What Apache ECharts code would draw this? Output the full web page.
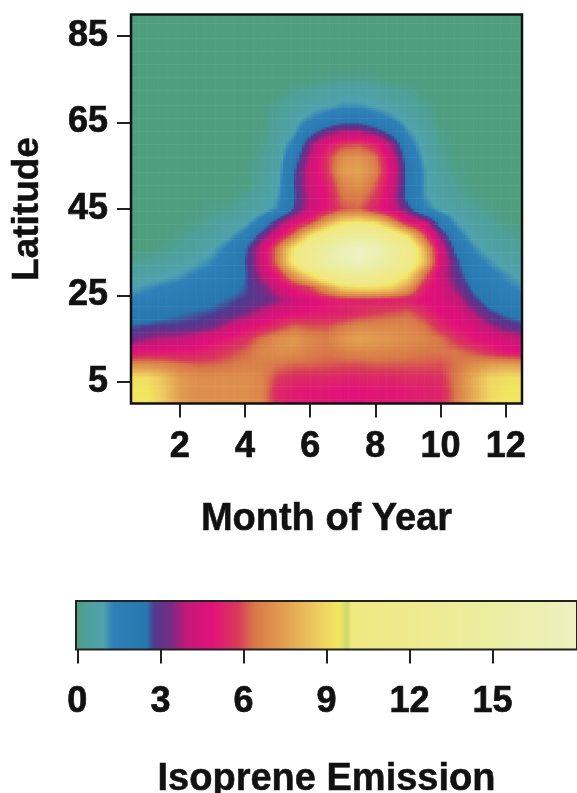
<!DOCTYPE html>
<html><head><meta charset="utf-8">
<style>html,body{margin:0;padding:0;background:#fff}#c{width:577px;height:793px}</style>
<script src="https://cdn.jsdelivr.net/npm/echarts@6/dist/echarts.min.js"></script>
</head><body><div id="c"></div>
<script>
const months=[0.5,1,1.5,2,2.5,3,3.5,4,4.5,5,5.5,6,6.5,7,7.5,8,8.5,9,9.5,10,10.5,11,11.5,12,12.5];
const latitudes=[90,87,84,81,78,75,72,69,66,63,60,57,54,51,48,45,42,39,36,33,30,27,24,21,18,15,12,9,6,3,0];
const lat90=[0,0,0,0,0,0,0,0,0,0,0,0,0,0,0,0,0,0,0,0,0,0,0,0,0];
const lat87=lat90,lat84=lat90,lat81=lat90,lat78=lat90;
const lat75=[0,0,0,0,0,0,0,0,0,0,0,0,.1,.15,.15,.1,0,0,0,0,0,0,0,0,0];
const lat72=[0,0,0,0,0,0,0,0,0,0,.2,.4,.5,.7,.7,.5,.4,.2,0,0,0,0,0,0,0];
const lat69=[0,0,0,0,0,0,0,0,0,.2,.5,.7,.9,1.1,1.1,.9,.7,.5,.2,0,0,0,0,0,0];
const lat66=[0,0,0,0,0,0,0,0,0,.3,.7,1.2,1.6,2,2,1.6,1.2,.7,.3,0,0,0,0,0,0];
const lat63=[0,0,0,0,0,0,0,0,0,.4,.9,2.2,3.1,3.7,3.7,3.1,2.2,1.1,.6,.1,0,0,0,0,0];
const lat60=[0,0,0,0,0,0,0,0,.1,.5,1.5,3.4,5,5.8,6,5.4,3.6,1.6,.7,.2,0,0,0,0,0];
const lat57=[0,0,0,0,0,0,0,0,.2,.6,2,4,5.6,7,7.2,6.4,4.4,2,.9,.3,0,0,0,0,0];
const lat54=[0,0,0,0,0,0,0,0,.3,.7,2.5,4.3,5.6,7.4,7.6,6.8,4.6,2.3,1.1,.4,.1,0,0,0,0];
const lat51=[0,0,0,0,0,0,0,0,.3,.8,2.6,4.3,5.2,6.8,7.2,6.2,4.4,2.3,1.1,.5,.2,0,0,0,0];
const lat48=[0,0,0,0,0,0,0,.2,.5,1,2.5,4.1,4.9,6.4,6.6,5.8,4.2,2.2,1.1,.6,.3,.1,0,0,0];
const lat45=[0,0,0,0,0,.1,.2,.4,.7,1.2,2.7,4.2,5,6,6.2,5.2,4.3,3,1.4,.9,.6,.3,.1,0,0];
const lat42=[0,0,0,0,.1,.3,.5,.8,1.6,3.2,4.6,5.6,7.6,9.2,9.6,9,7.2,5,4.2,2,1,.6,.3,.1,0];
const lat39=[0,0,0,.1,.3,.5,.9,1.5,3,4.6,6.4,9.2,11,13,14,13,11,9,6,3.4,1.5,.8,.5,.3,.1];
const lat36=[0,0,.1,.3,.5,.9,1.4,2.4,4.2,6.5,9.5,12,14.5,17,18,17,14.5,11.5,8,4.4,2.2,1.2,.7,.5,.3];
const lat33=[.2,.3,.4,.6,.9,1.2,1.7,2.6,4.2,6.6,10,12.5,15,17,18,16.5,14,11.5,8.5,4.6,2.8,1.6,1.1,.7,.5];
const lat30=[.5,.6,.8,1,1.3,1.6,2,2.5,3.9,5.2,7.5,9.5,11.5,13,14,13,11,9.5,6.5,4.3,3,2,1.5,1.1,.8];
const lat27=[.9,1.1,1.3,1.5,1.8,2,2.3,2.6,3.2,4.2,5.2,6,7.5,9,9.5,9.5,9,7.5,5.2,4.5,3.4,2.4,1.8,1.4,1.1];
const lat24=[1.4,1.6,1.8,2,2.2,2.4,2.6,2.8,3,3.5,4.2,4.6,5,5.3,5.3,5.3,5.2,5.2,4.8,4.6,4.2,2.9,2.2,1.8,1.5];
const lat21=[2,2.2,2.3,2.5,2.6,2.7,2.9,3.3,4,4.6,4.8,5,5.1,5.2,5.5,5.8,6,6.2,5.6,4.8,4.6,3.8,2.8,2.4,2.2];
const lat18=[2.6,2.7,2.8,2.8,2.9,3.2,4,4.6,5,5.6,6.2,6,6,6.4,6.8,6.8,6.8,6.8,6.4,5.4,4.9,4.6,3.8,3.1,2.8];
const lat15=[3.2,3.6,3.9,4,4.4,4.8,5.1,5.6,6.4,7,7.3,6.8,6.6,7.2,7.6,7.4,7.2,7,6.8,6.4,5.6,5,4.7,4.4,4];
const lat12=[4.8,5,5,5,5.1,5.4,5.8,6.2,6.8,7,7,6.6,6.4,6.6,6.8,6.8,6.7,6.6,6.4,6.4,6.4,6,5.5,5,4.8];
const lat9=[7,7,6.8,6.4,6.2,6.2,6.4,6.6,6.6,6.4,6.2,6.2,6.1,6,6,6.1,6.1,6.1,6.1,6,6.4,7,7.4,7.6,7.4];
const lat6=[9.2,9.2,8.4,7.4,7,7,7,7,6.8,5.8,5.5,5.4,5.4,5.3,5.3,5.4,5.4,5.5,5.5,5.6,6.6,7.8,8.9,9.2,9.2];
const lat3=[9.4,9.4,8.6,7.4,7,7,7,7,6.8,5.4,5.1,5,5,4.9,4.9,5,5,5.1,5.2,5.3,6.5,7.8,9,9.4,9.4];
const lat0=[9.4,9.4,8.6,7.4,7,7,7,7,6.8,5.4,5.1,5,5,4.9,4.9,5,5,5.1,5.2,5.3,6.5,7.8,9,9.4,9.4];
const emission=[lat90,lat87,lat84,lat81,lat78,lat75,lat72,lat69,lat66,lat63,lat60,lat57,lat54,lat51,lat48,lat45,lat42,lat39,lat36,lat33,lat30,lat27,lat24,lat21,lat18,lat15,lat12,lat9,lat6,lat3,lat0];
const monthTicks=[2,4,6,8,10,12];
const latitudeTicks=[5,25,45,65,85];
const scaleTicks=[0,3,6,9,12,15];
const scaleValues=[0,.3,.95,1.3,2.5,2.77,3.4,3.9,4.85,5.8,6.4,7.5,8.7,9.45,9.75,9.9,12.4,14.8,18];
const scaleColors=['#4f9e80','#4fa09a','#4fa2ae','#2f80b8','#2878b0','#503a90','#7a2a85','#c01a78','#e2107a','#d83a5a','#d87848','#e2a050','#eecc60','#f2e860','#c8d870','#f0e880','#f0ea90','#eaeea0','#eef0c0'];
const barOnlyStop=14; // the thin greenish notch shows on the colour bar only

const mapValues=scaleValues.filter((v,i)=>i!==barOnlyStop);
const rgb=scaleColors.filter((v,i)=>i!==barOnlyStop).map(c=>[1,3,5].map(i=>parseInt(c.substr(i,2),16)));
function colorOf(v){
  let i=0;
  while(i<mapValues.length-2&&v>mapValues[i+1])i++;
  const t=Math.max(0,Math.min(1,(v-mapValues[i])/(mapValues[i+1]-mapValues[i])));
  const a=rgb[i],b=rgb[i+1];
  return 'rgb('+a.map((x,k)=>Math.round(x+(b[k]-x)*t)).join(',')+')';
}
const cells=[];
latitudes.forEach((la,r)=>months.forEach((m,c)=>cells.push([m,la,emission[r][c],r,c])));
const SUB=6;
function renderCell(params,api){
  const r=api.value(3),c=api.value(4);
  if(r===0||c===months.length-1)return null;
  const v00=emission[r][c],v10=emission[r][c+1],v01=emission[r-1][c],v11=emission[r-1][c+1];
  const p0=api.coord([months[c],latitudes[r]]),p1=api.coord([months[c+1],latitudes[r-1]]);
  const w=(p1[0]-p0[0])/SUB,h=(p1[1]-p0[1])/SUB;
  const children=[];
  for(let i=0;i<SUB;i++)for(let j=0;j<SUB;j++){
    const u=(i+.5)/SUB,t=(j+.5)/SUB;
    const v=v00*(1-u)*(1-t)+v10*u*(1-t)+v01*(1-u)*t+v11*u*t;
    const x=p0[0]+i*w,y=p0[1]+(j+1)*h;
    children.push({type:'rect',shape:{x:x,y:y,width:w+.6,height:-h+.6},style:{fill:colorOf(v)},silent:true});
  }
  return {type:'group',children:children};
}
function renderBar(params,api){
  const a=api.coord([0,0]),b=api.coord([0,1]);
  const lo=api.coord([-0.05,0])[0],hi=api.coord([18.05,0])[0];
  return {type:'rect',shape:{x:lo,y:b[1],width:hi-lo,height:a[1]-b[1]},
    style:{fill:new echarts.graphic.LinearGradient(0,0,1,0,scaleValues.map((v,i)=>({offset:(v+.05)/18.1,color:scaleColors[i]})))}};
}
const font='"Liberation Sans",Arial,sans-serif';
const lab={fontFamily:font,fontWeight:'bold',fontSize:36,color:'#111',textBorderColor:'#111',textBorderWidth:0.7};
const nameLab={fontFamily:font,fontWeight:'bold',fontSize:38,color:'#111',textBorderColor:'#111',textBorderWidth:0.5};
const axisLine={show:false};
const tick={show:true,length:14,lineStyle:{color:'#222',width:2}};
const chart=echarts.init(document.getElementById('c'),null,{renderer:'canvas'});
chart.setOption({
  animation:false,backgroundColor:'#fff',
  grid:[
    {left:131,top:14.5,width:391,height:389,outerBoundsMode:'none',show:true,backgroundColor:'transparent',borderColor:'#111',borderWidth:2.5,z:5},
    {left:76,top:601,width:501,height:48.5,outerBoundsMode:'none',show:true,backgroundColor:'transparent',borderColor:'#222',borderWidth:2,z:5}
  ],
  xAxis:[
    {type:'value',gridIndex:0,min:0.5,max:12.5,splitLine:{show:false},axisLine,
     axisTick:{...tick,customValues:monthTicks},
     axisLabel:{...lab,customValues:monthTicks,margin:26},
     name:'Month of Year',nameLocation:'middle',nameGap:97,nameTextStyle:nameLab},
    {type:'value',gridIndex:1,min:-0.05,max:18.05,splitLine:{show:false},axisLine,
     axisTick:{...tick,customValues:scaleTicks},
     axisLabel:{...lab,customValues:scaleTicks,margin:35},
     name:'Isoprene Emission',nameLocation:'middle',nameGap:111,nameTextStyle:nameLab},
  ],
  yAxis:[
    {type:'value',gridIndex:0,min:0,max:90,splitLine:{show:false},axisLine,
     axisTick:{...tick,customValues:latitudeTicks},
     axisLabel:{...lab,customValues:latitudeTicks,margin:23},
     name:'Latitude',nameLocation:'middle',nameGap:85,nameTextStyle:{...nameLab,fontSize:37}},
    {type:'value',gridIndex:1,min:0,max:1,show:false}
  ],
  series:[
    {type:'custom',name:'Isoprene Emission',xAxisIndex:0,yAxisIndex:0,clip:true,silent:true,z:1,
     encode:{x:0,y:1},data:cells,renderItem:renderCell},
    {type:'custom',name:'Scale',xAxisIndex:1,yAxisIndex:1,clip:true,silent:true,z:1,
     encode:{x:0,y:1},data:[[0,0]],renderItem:renderBar}
  ]
});
</script></body></html>
